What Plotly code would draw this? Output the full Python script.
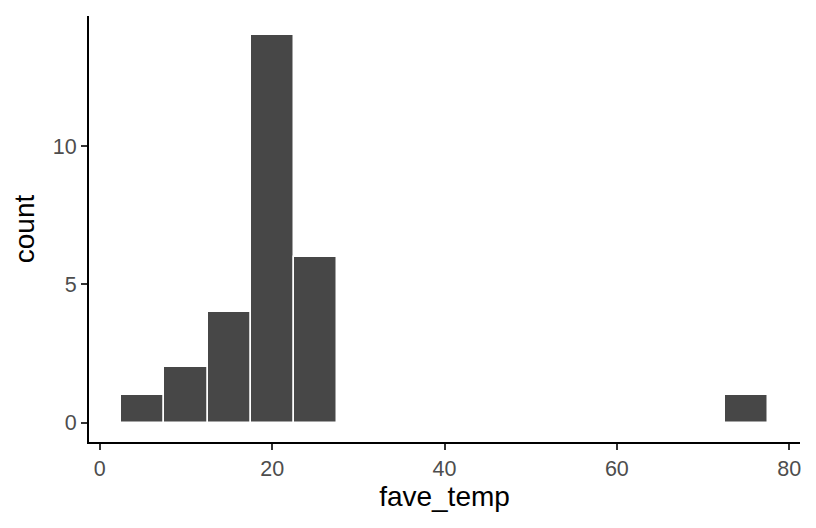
import plotly.graph_objects as go

bin_centers = [5, 10, 15, 20, 25, 75]
counts = [1, 2, 4, 14, 6, 1]
bin_width = 5
x_ticks = [0, 20, 40, 60, 80]
y_ticks = [0, 5, 10]

fig = go.Figure(go.Bar(
    x=bin_centers, y=counts, width=[bin_width] * len(bin_centers),
    marker=dict(color="#474747", line=dict(color="white", width=1.5)),
    hoverinfo="skip",
))

font_family = "Liberation Sans, Arial, sans-serif"
axis_common = dict(
    showline=True, linecolor="black", linewidth=2,
    ticks="outside", ticklen=6, tickwidth=2, tickcolor="#333333",
    showgrid=False, zeroline=False,
    tickfont=dict(family=font_family, size=21.5, color="#4D4D4D"),
)

fig.update_layout(
    width=816, height=528,
    margin=dict(l=81, r=24, t=8, b=94),
    plot_bgcolor="white", paper_bgcolor="white",
    showlegend=False,
    bargap=0,
    xaxis=dict(range=[-1.25, 81.25], tickvals=x_ticks,
               title=dict(text="fave_temp", font=dict(family=font_family, size=28, color="black"), standoff=6),
               **axis_common),
    yaxis=dict(range=[-0.7, 14.7], tickvals=y_ticks,
               title=dict(text="count", font=dict(family=font_family, size=28, color="black"), standoff=10),
               **axis_common),
)

fig.write_html("out.html")
